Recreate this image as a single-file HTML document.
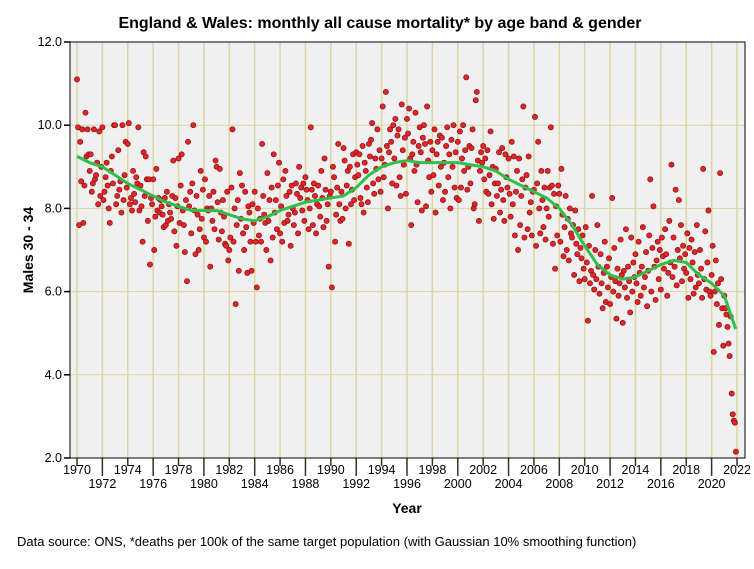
<!DOCTYPE html>
<html><head><meta charset="utf-8"><style>
body{margin:0;background:#fff;font-family:"Liberation Sans",sans-serif}
svg text{font-family:"Liberation Sans",sans-serif}
</style></head><body>
<svg id="chart" width="754" height="564" xmlns="http://www.w3.org/2000/svg">
<rect x="0" y="0" width="754" height="564" fill="#fff"/>
<text x="380" y="28" text-anchor="middle" font-size="16" font-weight="bold">England &amp; Wales: monthly all cause mortality* by age band &amp; gender</text>
<rect x="70" y="42" width="675" height="416" fill="#f0f0f0"/>
<g id="grid"></g>
<g id="axes"></g>
<g id="points"></g>
<g id="trend"></g>
<rect x="70" y="42" width="675" height="416" fill="none" stroke="#000" stroke-width="1"/>
<text x="407" y="513" text-anchor="middle" font-size="14" font-weight="bold">Year</text>
<text transform="translate(33,250) rotate(-90)" text-anchor="middle" font-size="14" font-weight="bold">Males 30 - 34</text>
<text x="17" y="546" font-size="13">Data source: ONS, *deaths per 100k of the same target population (with Gaussian 10% smoothing function)</text>
</svg>
<script>
const yTicks=[2,4,6,8,10,12];
const yTickLabels=["2.0","4.0","6.0","8.0","10.0","12.0"];
const xTicks=[1970,1972,1974,1976,1978,1980,1982,1984,1986,1988,1990,1992,1994,1996,1998,2000,2002,2004,2006,2008,2010,2012,2014,2016,2018,2020,2022];
const startYear=1970;
const monthly=[
[11.1,9.95,7.6,9.6,8.65,9.9,7.65,8.55,10.3,9.25,9.9,9.3],
[8.9,9.3,8.4,8.6,9.9,8.7,8.8,9.1,8.1,9.85,8.3,9.0],
[9.95,8.2,8.4,8.75,9.1,8.55,8.0,7.65,8.9,9.25,8.6,10.0],
[10.0,8.1,8.3,9.4,8.45,8.65,7.9,10.0,8.2,8.8,9.6,8.5],
[9.55,10.05,8.1,8.25,7.95,8.9,8.35,8.15,8.75,8.6,9.95,7.95],
[8.55,8.05,7.2,9.35,8.3,9.25,8.7,7.7,8.7,6.65,8.25,8.1],
[8.7,7.0,7.8,8.95,7.95,8.25,7.9,8.2,8.05,7.85,7.55,8.25],
[7.6,8.4,7.7,8.1,7.9,7.75,8.3,9.15,7.45,8.25,7.1,8.05],
[9.2,7.65,8.55,9.3,7.95,7.6,6.95,8.2,6.25,9.6,8.05,8.4],
[7.4,8.6,10.0,7.95,6.9,8.3,7.85,7.0,7.5,8.9,7.75,8.45],
[7.3,8.7,7.2,8.0,7.95,8.3,6.6,8.0,7.7,8.4,7.5,9.15],
[9.0,8.15,7.25,8.95,7.9,7.45,8.2,7.8,7.15,7.1,8.4,6.75],
[7.0,7.3,8.5,9.9,7.2,8.0,5.7,7.6,8.2,6.5,8.85,7.75],
[8.55,7.4,7.0,8.4,7.55,6.45,8.05,7.9,7.2,6.5,8.1,7.65],
[8.4,7.2,6.1,8.0,7.35,7.75,7.2,9.55,8.3,7.85,7.65,7.0],
[8.85,7.7,8.2,6.75,8.5,7.3,9.3,7.9,8.2,7.5,8.55,9.1],
[7.4,8.05,7.2,8.7,7.65,8.9,8.3,7.7,7.85,8.4,7.1,8.55],
[8.0,7.6,7.9,8.6,8.35,7.4,9.0,8.25,8.5,7.95,8.6,7.7],
[8.75,8.45,8.2,7.5,8.0,9.95,8.45,7.6,8.6,8.3,7.4,8.1],
[8.55,8.05,7.8,8.9,8.25,7.55,9.2,8.45,7.7,8.1,6.6,8.3],
[8.4,6.1,9.0,8.75,7.2,7.85,8.5,9.55,8.1,7.7,8.4,7.75],
[9.45,9.15,8.0,8.55,8.9,7.15,9.0,8.1,8.45,9.3,8.2,8.75],
[9.35,9.05,8.8,9.3,8.25,8.1,9.5,7.9,9.1,8.9,8.5,8.15],
[9.55,9.25,9.65,10.05,8.6,8.35,9.2,8.95,9.9,8.7,9.4,8.4],
[9.2,10.45,8.75,9.05,10.8,9.5,8.0,9.35,9.9,9.6,8.6,10.0],
[9.2,10.15,8.55,9.75,9.9,8.75,8.3,10.5,9.4,9.05,9.7,8.35],
[10.15,9.8,10.4,9.2,7.6,9.3,9.6,8.9,10.3,9.05,8.15,9.5],
[9.95,9.35,7.95,9.7,10.0,9.55,8.05,10.45,9.15,8.75,9.6,8.4],
[9.4,8.8,9.9,7.9,9.3,9.6,8.55,9.75,9.0,9.7,8.2,9.1],
[8.4,9.5,9.95,8.75,9.3,8.0,9.65,9.0,10.0,8.5,9.35,8.25],
[9.6,8.2,9.85,8.5,9.2,10.0,8.9,9.4,11.15,8.45,9.0,9.5],
[8.6,9.45,9.9,8.0,8.1,10.6,10.8,9.15,7.7,8.9,9.35,9.1],
[9.5,8.7,9.2,8.4,9.4,8.35,8.8,9.85,8.1,9.0,7.75,8.6],
[8.95,8.3,8.6,9.35,7.9,8.45,9.45,8.2,7.7,9.3,8.75,8.5],
[9.2,8.35,7.8,9.6,8.1,9.25,7.35,8.4,8.9,7.0,9.2,7.6],
[8.3,8.7,10.45,7.3,8.5,8.8,7.5,9.25,7.9,8.15,7.35,8.4],
[8.45,10.2,7.1,8.6,9.6,8.0,7.4,8.9,8.2,7.55,8.5,7.25],
[8.0,8.9,7.8,8.5,9.95,8.55,7.15,8.35,6.55,8.05,7.35,8.55],
[8.35,7.2,8.95,7.85,6.85,7.55,8.3,7.0,7.75,6.75,8.0,7.4],
[7.3,7.6,6.4,7.95,7.15,6.9,7.5,6.25,7.05,6.8,7.35,6.55],
[6.3,7.55,6.7,5.3,7.1,6.2,6.5,8.3,6.4,6.05,7.0,6.3],
[7.6,6.6,5.95,6.9,6.2,5.6,6.45,7.2,5.75,6.6,6.1,6.8],
[5.7,6.35,8.25,6.0,7.05,6.25,5.35,6.55,5.9,6.2,7.25,6.4],
[5.25,6.5,6.1,7.5,5.85,6.6,6.25,5.5,7.3,6.0,6.7,6.35],
[6.9,6.2,5.75,7.2,6.45,5.9,6.6,7.55,6.1,6.35,6.95,5.65],
[6.5,7.35,8.7,6.0,7.05,8.05,6.6,5.8,6.75,7.2,6.3,7.0],
[6.05,7.3,6.85,6.55,7.5,6.9,5.9,6.45,7.7,6.7,9.05,6.35],
[7.3,6.6,8.45,6.15,7.0,8.2,6.8,7.6,6.25,7.1,6.55,6.9],
[6.45,7.4,5.85,7.05,6.3,7.25,6.7,5.95,6.95,6.1,7.6,6.4],
[6.2,7.0,6.55,5.85,8.95,6.3,7.45,6.05,6.7,7.95,6.0,5.9],
[6.4,7.1,4.55,6.0,6.75,5.7,6.2,5.2,8.85,6.3,5.6,4.7],
[5.9,5.6,5.45,5.15,4.75,4.45,5.4,3.55,3.05,2.9,2.85,2.15]
];
const trendYears=[1970,1971,1972,1973,1974,1975,1976,1977,1978,1979,1980,1981,1982,1983,1984,1985,1986,1987,1988,1989,1990,1991,1992,1993,1994,1995,1996,1997,1998,1999,2000,2001,2002,2003,2004,2005,2006,2007,2008,2009,2010,2011,2012,2013,2014,2015,2016,2017,2018,2019,2020,2021,2021.9];
const trendValues=[9.25,9.1,9.0,8.8,8.6,8.45,8.3,8.15,8.05,7.95,7.95,7.95,7.85,7.75,7.7,7.8,7.95,8.05,8.15,8.2,8.25,8.3,8.5,8.8,9.0,9.1,9.15,9.1,9.1,9.1,9.1,9.05,9.0,8.9,8.7,8.55,8.4,8.25,8.0,7.6,7.1,6.65,6.4,6.3,6.35,6.5,6.65,6.75,6.7,6.4,6.2,5.9,5.1];

const NS="http://www.w3.org/2000/svg";
const L=70,R=745,T=42,B=458;
function xs(yr){return 77+(yr-1970)*(737-77)/52;}
function ys(v){return B-(v-2)*(B-T)/10;}
function mk(tag,attrs,parent){const e=document.createElementNS(NS,tag);for(const k in attrs)e.setAttribute(k,attrs[k]);parent.appendChild(e);return e;}
const grid=document.getElementById('grid'),axes=document.getElementById('axes'),pts=document.getElementById('points'),tr=document.getElementById('trend');
yTicks.forEach((v,i)=>{
  const g=mk('line',{x1:L,x2:R,y1:ys(v),y2:ys(v),stroke:'#dcd6a0','stroke-width':1},grid);
  
  
  const t=mk('line',{x1:L-6,x2:L,y1:ys(v),y2:ys(v),stroke:'#000','stroke-width':1.5},axes);
  
  
  const lb=mk('text',{x:L-8,y:ys(v)+4,'text-anchor':'end','font-size':12.5},axes);
  lb.textContent=yTickLabels[i];
  
  
});
xTicks.forEach((yr,i)=>{
  const x=xs(yr);
  const g=mk('line',{x1:x,x2:x,y1:T,y2:B,stroke:'#dcd6a0','stroke-width':1.5},grid);
  
  
  const lower=i%2===1;
  const t=mk('line',{x1:x,x2:x,y1:B,y2:B+(lower?18:8),stroke:'#333','stroke-width':1.5},axes);
  
  
  const lb=mk('text',{x:x,y:lower?488:474,'text-anchor':'middle','font-size':12.5},axes);
  lb.textContent=String(yr);
  
  
});
monthly.forEach((row,yi)=>{row.forEach((v,m)=>{
  const c=mk('circle',{cx:xs(startYear+yi+m/12),cy:ys(v),r:2.6,fill:'#e0262a',stroke:'#8a1010','stroke-width':0.7},pts);
  
  
});});
const p=mk('polyline',{points:trendYears.map((y,i)=>xs(y)+','+ys(trendValues[i])).join(' '),fill:'none',stroke:'#2fbf4a','stroke-width':3,'stroke-linejoin':'round'},tr);


</script>
</body></html>
